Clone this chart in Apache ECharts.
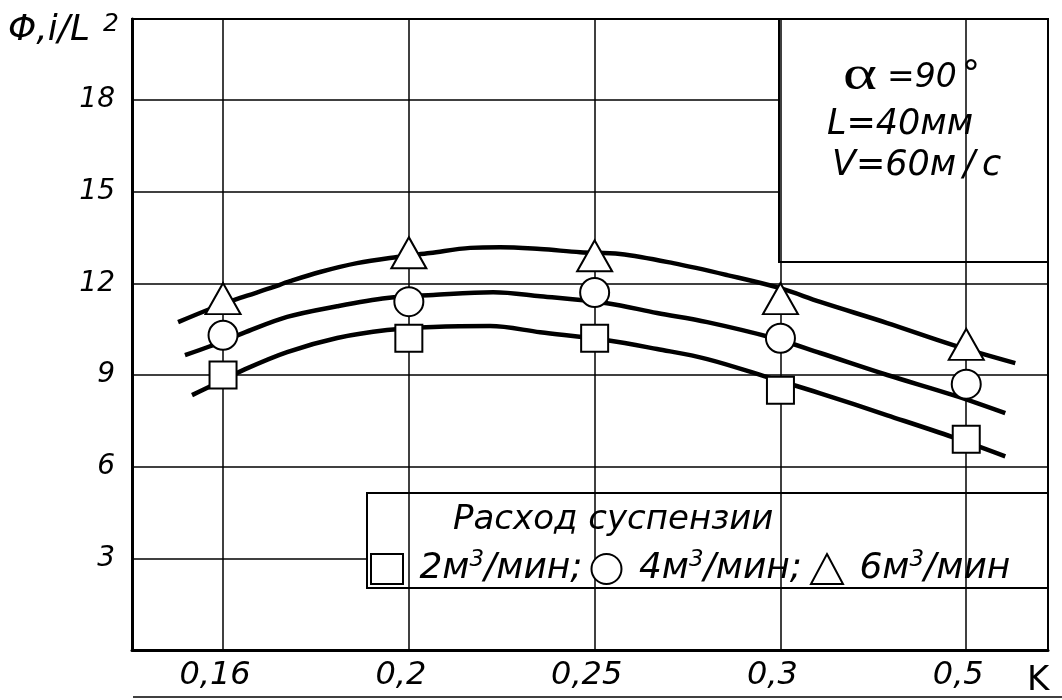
<!DOCTYPE html>
<html>
<head>
<meta charset="utf-8">
<script src="https://cdn.jsdelivr.net/npm/echarts@6/dist/echarts.min.js"></script>
<style>
  html, body { margin: 0; padding: 0; background: #fff; }
  #chart { width: 1062px; height: 700px; }
</style>
</head>
<body>
<div id="chart"></div>
<script>
// K values along the horizontal axis (equally spaced categories)
const categories = ['0,16', '0,2', '0,25', '0,3', '0,5'];
// Y tick labels
const yTicks = [3, 6, 9, 12, 15, 18];

// Measured points Φ,i/L² for each suspension flow rate
const flow2 = [9.0, 10.2, 10.2, 8.5, 6.9];
const flow4 = [10.3, 11.4, 11.7, 10.2, 8.7];
const flow6 = [11.5, 13.0, 12.9, 11.5, 10.0];

// Fitted curves as [category position, value]
const curve2 = [[-0.167, 8.34], [-0.054, 8.67], [0.108, 9.16], [0.345, 9.75], [0.614, 10.21], [0.883, 10.47],
  [1.131, 10.57], [1.437, 10.60], [1.707, 10.40], [2.067, 10.14], [2.336, 9.85], [2.606, 9.52],
  [2.961, 8.87], [3.214, 8.40], [3.575, 7.68], [3.930, 6.96], [4.210, 6.34]];
const curve4 = [[-0.205, 9.65], [-0.070, 9.94], [0.108, 10.37], [0.345, 10.90], [0.614, 11.25], [0.883, 11.52],
  [1.131, 11.62], [1.454, 11.71], [1.707, 11.58], [2.067, 11.35], [2.336, 11.03], [2.606, 10.73],
  [2.961, 10.21], [3.214, 9.72], [3.575, 9.00], [3.930, 8.34], [4.210, 7.75]];
const curve6 = [[-0.242, 10.73], [-0.070, 11.16], [0.092, 11.52], [0.253, 11.84], [0.361, 12.07], [0.522, 12.37],
  [0.721, 12.66], [0.937, 12.86], [1.114, 12.99], [1.330, 13.16], [1.491, 13.18], [1.707, 13.12],
  [1.922, 13.02], [2.137, 12.96], [2.423, 12.66], [2.713, 12.27], [2.999, 11.84], [3.214, 11.39],
  [3.575, 10.70], [3.930, 9.98], [4.264, 9.39]];

const seriesNames = ['2м³/мин', '4м³/мин', '6м³/мин'];
const symbols = ['rect', 'circle', 'triangle'];
const symbolSizes = [27, 29, [35, 31]];

const FONT = 'DejaVu Sans';
const BLACK = '#000';

const chart = echarts.init(document.getElementById('chart'), null, { renderer: 'canvas' });

const markerStyle = { color: '#fff', borderColor: BLACK, borderWidth: 2, opacity: 1 };

const pointSeries = [flow2, flow4, flow6].map((vals, s) => ({
  name: seriesNames[s],
  type: 'scatter',
  symbol: symbols[s],
  symbolSize: symbolSizes[s],
  itemStyle: markerStyle,
  z: 5,
  silent: true,
  data: vals.map((v, i) => [i, v])
}));

const curveSeries = [curve2, curve4, curve6].map((pts, s) => ({
  name: 'fit ' + s,
  type: 'line',
  smooth: 0.35,
  showSymbol: false,
  silent: true,
  z: 4,
  lineStyle: { color: BLACK, width: 4.5 },
  data: pts
}));

// vertical grid lines at each category
const gridLineSeries = {
  name: 'grid',
  type: 'scatter',
  data: [],
  z: 1,
  silent: true,
  markLine: {
    silent: true,
    symbol: 'none',
    label: { show: false },
    lineStyle: { color: BLACK, width: 1.5, type: 'solid' },
    data: categories.map((c, i) => ({ xAxis: i }))
  }
};

const italic = (size) => 'italic ' + size + 'px "' + FONT + '"';

chart.setOption({
  animation: false,
  backgroundColor: '#fff',
  grid: { left: 132, top: 19, right: 14, bottom: 50, show: true, borderColor: BLACK, borderWidth: 2 },
  xAxis: {
    type: 'value',
    min: -0.49,
    max: 4.44,
    axisLine: { show: true, onZero: false, lineStyle: { color: BLACK, width: 3 } },
    axisTick: { show: false },
    splitLine: { show: false },
    axisLabel: {
      customValues: categories.map((c, i) => i),
      formatter: (v) => categories[Math.round(v)],
      fontFamily: FONT, fontStyle: 'italic', fontSize: 32, color: BLACK, margin: 10,
      padding: [0, 16, 0, 0]
    }
  },
  yAxis: {
    type: 'value',
    min: 0,
    max: 20.65,
    interval: 3,
    axisLine: { show: true, onZero: false, lineStyle: { color: BLACK, width: 3 } },
    axisTick: { show: false },
    splitLine: { show: true, lineStyle: { color: BLACK, width: 1.5 } },
    axisLabel: {
      showMinLabel: false,
      showMaxLabel: false,
      formatter: (v) => (yTicks.indexOf(v) >= 0 ? String(v) : ''),
      fontFamily: FONT, fontStyle: 'italic', fontSize: 28, color: BLACK, margin: 17
    }
  },
  legend: {
    data: seriesNames.map((n, i) => ({ name: n, icon: symbols[i], itemStyle: markerStyle })),
    left: 370,
    top: 549,
    padding: 0,
    itemWidth: 32,
    itemHeight: 30,
    itemGap: 8,
    selectedMode: false,
    z: 6,
    textStyle: {
      color: BLACK,
      rich: {
        t: { fontFamily: FONT, fontStyle: 'italic', fontSize: 36, color: BLACK, lineHeight: 40 },
        s: { fontFamily: FONT, fontStyle: 'italic', fontSize: 23, color: BLACK, verticalAlign: 'top' }
      }
    },
    formatter: (name) => {
      const i = seriesNames.indexOf(name);
      const parts = name.split('³');
      return '{t| ' + parts[0] + '}{s|3}{t|' + parts[1] + (i < seriesNames.length - 1 ? ';' : '') + '}';
    }
  },
  graphic: [
    // parameter box
    { type: 'rect', z: 3, shape: { x: 779, y: 19, width: 269, height: 243 },
      style: { fill: '#fff', stroke: BLACK, lineWidth: 2 } },
    { type: 'text', z: 4, x: 843, y: 76, scaleX: 1.35,
      style: { text: 'α', font: '48px "Liberation Serif"', fill: BLACK, verticalAlign: 'middle' } },
    { type: 'text', z: 4, x: 887, y: 78,
      style: { text: '=90', font: italic(33), fill: BLACK, verticalAlign: 'middle' } },
    { type: 'text', z: 4, x: 962, y: 76,
      style: { text: '°', font: '36px "' + FONT + '"', fill: BLACK, verticalAlign: 'middle' } },
    { type: 'text', z: 4, x: 827, y: 125,
      style: { text: 'L=40мм', font: italic(35), fill: BLACK, verticalAlign: 'middle' } },
    { type: 'text', z: 4, x: 832, y: 166,
      style: { text: 'V=60м\u2009/\u2009с', font: italic(35), fill: BLACK, verticalAlign: 'middle' } },
    // legend frame and heading
    { type: 'rect', z: 3, shape: { x: 367, y: 493, width: 681, height: 95 },
      style: { fill: '#fff', stroke: BLACK, lineWidth: 2 } },
    { type: 'text', z: 4, x: 453, y: 520,
      style: { text: 'Расход суспензии', font: italic(34), fill: BLACK, verticalAlign: 'middle' } },
    // axis titles
    { type: 'text', z: 4, x: 8, y: 31,
      style: { text: 'Φ,i/L', font: italic(36), fill: BLACK, verticalAlign: 'middle' } },
    { type: 'text', z: 4, x: 103, y: 24,
      style: { text: '2', font: italic(25), fill: BLACK, verticalAlign: 'middle' } },
    { type: 'text', z: 4, x: 1027, y: 681,
      style: { text: 'K', font: '34px "' + FONT + '"', fill: BLACK, verticalAlign: 'middle' } },
    // base rule under the axis labels
    { type: 'line', z: 4, shape: { x1: 133, y1: 697, x2: 1062, y2: 697 },
      style: { stroke: BLACK, lineWidth: 1.5 } }
  ],
  series: [gridLineSeries].concat(curveSeries, pointSeries)
});
</script>
</body>
</html>
